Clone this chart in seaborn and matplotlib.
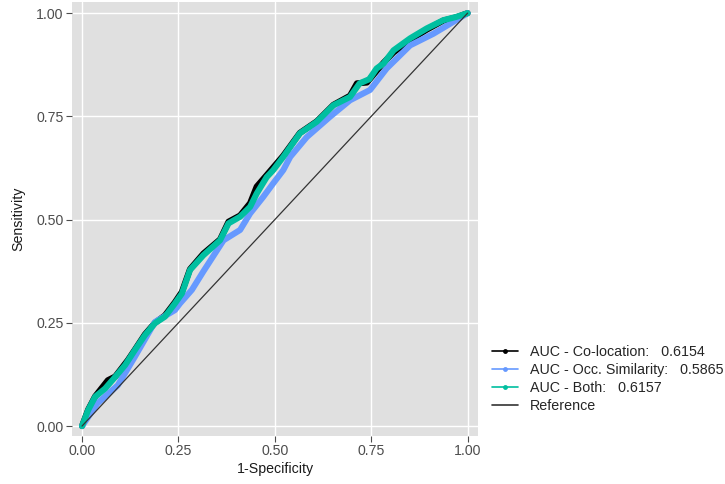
import numpy as np
import pandas as pd
import matplotlib
matplotlib.use("Agg")
import matplotlib.pyplot as plt
import seaborn as sns
from matplotlib.lines import Line2D

# ---- data ----
coloc_x = [0, 0.016, 0.034, 0.067, 0.086, 0.119, 0.137, 0.163, 0.189, 0.215, 0.241, 0.259,
           0.28, 0.315, 0.358, 0.38, 0.41, 0.436, 0.453, 0.479, 0.522, 0.565, 0.609, 0.652,
           0.695, 0.713, 0.739, 0.782, 0.808, 0.851, 0.894, 0.937, 0.971, 1.0]
coloc_y = [0, 0.040, 0.072, 0.111, 0.120, 0.160, 0.185, 0.222, 0.250, 0.268, 0.300, 0.325,
           0.380, 0.418, 0.452, 0.495, 0.510, 0.540, 0.580, 0.608, 0.655, 0.710, 0.738, 0.778,
           0.800, 0.830, 0.832, 0.880, 0.905, 0.935, 0.960, 0.982, 0.990, 1.0]

occ_x = [0, 0.040, 0.093, 0.137, 0.189, 0.241, 0.254, 0.285, 0.315, 0.367, 0.410, 0.436,
         0.470, 0.496, 0.522, 0.540, 0.583, 0.643, 0.695, 0.747, 0.790, 0.851, 0.911, 0.963, 1.0]
occ_y = [0, 0.055, 0.099, 0.168, 0.252, 0.281, 0.297, 0.330, 0.375, 0.450, 0.475, 0.515,
         0.555, 0.588, 0.620, 0.652, 0.700, 0.749, 0.789, 0.814, 0.866, 0.922, 0.950, 0.979, 1.0]

both_x = [0, 0.016, 0.034, 0.060, 0.086, 0.112, 0.137, 0.163, 0.189, 0.215, 0.241, 0.259,
          0.280, 0.315, 0.358, 0.380, 0.410, 0.436, 0.453, 0.479, 0.496, 0.522, 0.565, 0.609,
          0.652, 0.695, 0.720, 0.745, 0.764, 0.782, 0.808, 0.851, 0.894, 0.937, 0.971, 1.0]
both_y = [0, 0.039, 0.071, 0.091, 0.119, 0.148, 0.184, 0.220, 0.249, 0.265, 0.297, 0.321,
          0.378, 0.414, 0.450, 0.491, 0.507, 0.531, 0.563, 0.603, 0.620, 0.652, 0.709, 0.737,
          0.777, 0.797, 0.830, 0.840, 0.866, 0.878, 0.910, 0.939, 0.963, 0.983, 0.991, 1.0]

labels = ["AUC - Co-location:   0.6154",
          "AUC - Occ. Similarity:   0.5865",
          "AUC - Both:   0.6157"]
colors = ["#000000", "#6699FF", "#00BFA0"]
ref_label = "Reference"
ticks = [0.0, 0.25, 0.5, 0.75, 1.0]
tick_labels = ["0.00", "0.25", "0.50", "0.75", "1.00"]

df = pd.concat([
    pd.DataFrame({"x": coloc_x, "y": coloc_y, "series": labels[0]}),
    pd.DataFrame({"x": occ_x, "y": occ_y, "series": labels[1]}),
    pd.DataFrame({"x": both_x, "y": both_y, "series": labels[2]}),
], ignore_index=True)

sns.set_theme(style="darkgrid")
plt.rcParams["font.family"] = ["Liberation Sans", "DejaVu Sans"]

fig = plt.figure(figsize=(7.25, 4.84), dpi=100)
ax = fig.add_axes([72/725, 1-436/484, (478-72)/725, (436-2)/484])
ax.set_facecolor("#E0E0E0")

sns.lineplot(data=df, x="x", y="y", hue="series", hue_order=labels,
             palette=dict(zip(labels, colors)), estimator=None, sort=False,
             linewidth=4.4, legend=False, ax=ax,
             solid_capstyle="round", solid_joinstyle="round")
ax.plot([0, 1], [0, 1], color="#333333", linewidth=0.9, zorder=5)

ax.set_xlim(-0.026, 1.027)
ax.set_ylim(-0.024, 1.027)
ax.set_xticks(ticks)
ax.set_xticklabels(tick_labels)
ax.set_yticks(ticks)
ax.set_yticklabels(tick_labels)
ax.grid(True, color="white", linewidth=1.0)
ax.set_axisbelow(True)
for s in ax.spines.values():
    s.set_visible(False)
ax.tick_params(axis="both", which="major", length=4, width=0.8, color="#4D4D4D",
               labelcolor="#4D4D4D", labelsize=10.2, pad=2, direction="out",
               bottom=True, left=True)
ax.set_xlabel("1-Specificity", fontsize=10.2, color="#1A1A1A", labelpad=3)
ax.set_ylabel("Sensitivity", fontsize=10.2, color="#1A1A1A", labelpad=8)

handles = [Line2D([0], [0], color=c, linewidth=1.2, marker="o", markersize=3.5,
                  markeredgewidth=0) for c in colors]
handles.append(Line2D([0], [0], color="#333333", linewidth=1.2))
fig.legend(handles, labels + [ref_label], loc="upper left",
           bbox_to_anchor=(492/725, 1-345/484), frameon=False, fontsize=10.3,
           handlelength=1.8, handletextpad=0.85, labelspacing=0.27,
           borderpad=0, borderaxespad=0)

fig.savefig("out.png", dpi=100)
